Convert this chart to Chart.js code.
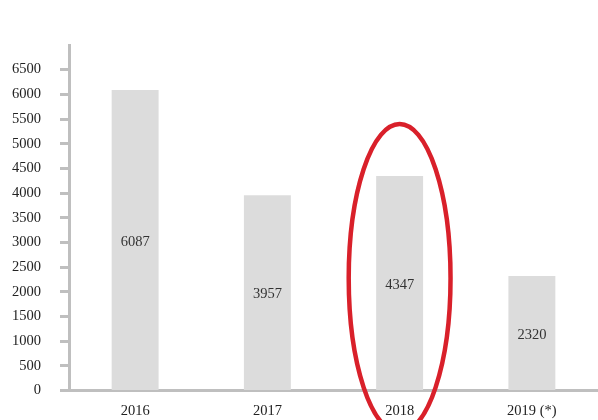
<!DOCTYPE html>
<html>
<head>
<meta charset="utf-8">
<script src="https://cdn.jsdelivr.net/npm/chart.js@4/dist/chart.umd.min.js"></script>
<style>
  body { margin: 0; background: #fff; }
</style>
</head>
<body>
<canvas id="chart" width="598" height="420"></canvas>
<script>
const years = ['2016', '2017', '2018', '2019 (*)'];
const values = [6087, 3957, 4347, 2320];
const yMax = 7000;
const yStep = 500;

// ellipse around the highlighted year (index, value range it spans)
const circledIndex = 2;
const circleTop = 5400;
const circleBottom = -850;

const axisGray = '#bfbfbf';
const serif = "'Liberation Serif', 'DejaVu Serif', serif";

// values written inside bars, at mid height
const barLabels = {
  id: 'barLabels',
  afterDatasetsDraw(chart) {
    const c = chart.ctx;
    const meta = chart.getDatasetMeta(0);
    c.save();
    c.font = '14.5px ' + serif;
    c.fillStyle = '#333';
    c.textAlign = 'center';
    c.textBaseline = 'middle';
    meta.data.forEach((bar, i) => {
      const mid = (bar.y + bar.base) / 2;
      c.fillText(String(values[i]), bar.x, mid + 2);
    });
    c.restore();
  }
};

// red hand drawn ring around 2018
const redRing = {
  id: 'redRing',
  afterDraw(chart) {
    const c = chart.ctx;
    const x = chart.scales.x;
    const y = chart.scales.y;
    const cx = x.getPixelForValue(circledIndex);
    const top = y.getPixelForValue(circleTop);
    const bottom = y.getPixelForValue(circleBottom);
    const rx = x.width / years.length * 0.385;
    c.save();
    c.strokeStyle = '#d9202a';
    c.lineWidth = 4.5;
    c.beginPath();
    c.ellipse(cx, (top + bottom) / 2, rx, (bottom - top) / 2, 0, 0, Math.PI * 2);
    c.stroke();
    c.restore();
  }
};

new Chart(document.getElementById('chart'), {
  type: 'bar',
  data: {
    labels: years,
    datasets: [{
      data: values,
      backgroundColor: '#dcdcdc',
      barPercentage: 0.355,
      categoryPercentage: 1
    }]
  },
  options: {
    responsive: false,
    animation: false,
    layout: { padding: { top: 45, left: -7, right: -7, bottom: -12 } },
    plugins: {
      legend: { display: false },
      tooltip: { enabled: false }
    },
    scales: {
      x: {
        grid: { display: false, drawTicks: false },
        border: { color: axisGray, width: 3 },
        ticks: {
          color: '#222',
          font: { family: serif, size: 14.5 },
          padding: 12,
          maxRotation: 0
        }
      },
      y: {
        min: 0,
        max: yMax,
        grid: {
          drawOnChartArea: false,
          tickLength: 9,
          tickWidth: 3,
          tickColor: ctx => (ctx.tick && ctx.tick.value === yMax) ? 'rgba(0,0,0,0)' : axisGray
        },
        border: { color: axisGray, width: 3 },
        ticks: {
          stepSize: yStep,
          color: '#222',
          font: { family: serif, size: 14.5 },
          padding: 19,
          callback: v => v === yMax ? '' : v
        }
      }
    }
  },
  plugins: [barLabels, redRing]
});
</script>
</body>
</html>
